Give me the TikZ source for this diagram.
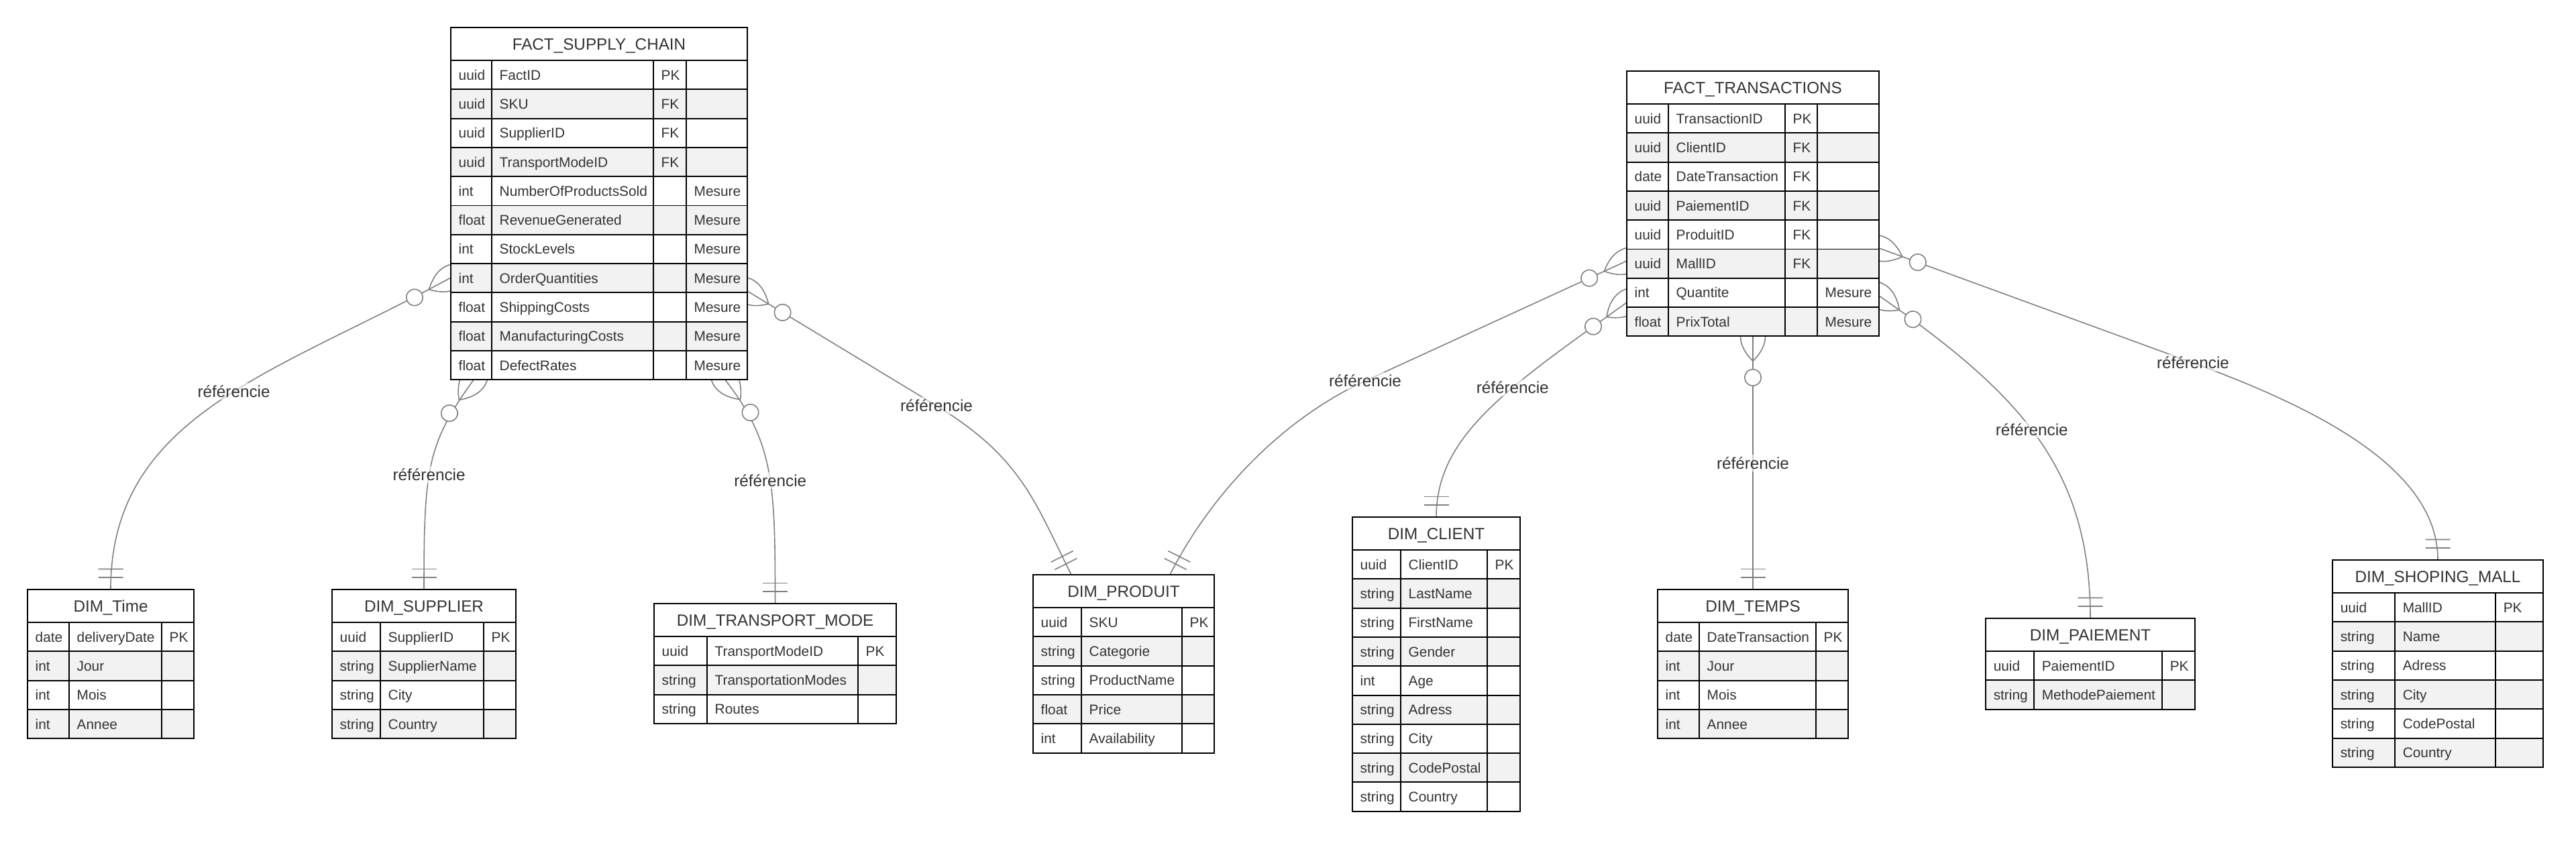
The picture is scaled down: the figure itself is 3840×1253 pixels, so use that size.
\documentclass[tikz,border=0pt]{standalone}
\usepackage{fontspec}
\setmainfont{Liberation Sans}
\usetikzlibrary{calc,fit,decorations.markings}
\pgfdeclarelayer{bg}
\pgfsetlayers{bg,main}
\definecolor{edgegray}{RGB}{128,128,128}
\definecolor{rowgray}{RGB}{242,242,242}
\definecolor{txtc}{RGB}{51,51,51}
\def\dashmark{-}
\tikzset{
  tline/.style={draw=black, line width=0.55pt},
  outerbox/.style={draw=black, line width=0.55pt, inner sep=0pt, outer sep=0pt},
  cell/.style={font=\fontsize{5.93}{7}\selectfont, text=txtc, inner sep=0pt, anchor=base west},
  ttl/.style={font=\fontsize{6.9}{8}\selectfont, text=txtc, inner sep=0pt, anchor=base},
  lbl/.style={font=\fontsize{6.9}{8}\selectfont, text=txtc, fill=white, fill opacity=0.6, text opacity=1, inner sep=1pt},
  conn/.style={draw=edgegray, line width=0.45pt},
  zmany/.style={postaction={decorate, decoration={markings, mark=at position 0 with {
      \draw[conn] (-37,0) .. controls (-12.3,-24.7) and (12.3,-24.7) .. (37,0) .. controls (12.3,24.7) and (-12.3,24.7) .. (-37,0);
      \draw[conn, fill=white] (61.5,0) circle (12.3);}}}},
  onlyone/.style={postaction={decorate, decoration={markings, mark=at position 0.99999 with {
      \draw[conn] (-18,-18.5) -- (-18,18.5) (-30.5,-18.5) -- (-30.5,18.5);}}}},
}
% #1 name, #2 xL, #3 cA, #4 cB, #5 cC (0 = none), #6 xR, #7 yTop, #8 title, #9 rows
\newcommand\ertable[9]{%
  \pgfmathsetmacro\yHB{#7+49}%
  \foreach \rowitem [count=\rowcnt] in {#9} {\xdef\nrows{\rowcnt}}%
  \pgfmathsetmacro\yBot{\yHB+\nrows*43.3}%
  \fill[white] (#2,#7) rectangle (#6,\yBot);
  \node[ttl] (#1-title) at ({(#2+#6)/2},#7+33.2) {#8};
  \foreach \fa/\fb/\fc/\fd [count=\i] in {#9} {%
    \pgfmathsetmacro\ya{\yHB+(\i-1)*43.3}%
    \pgfmathsetmacro\yb{\ya+43.3}%
    \ifodd\i\else\fill[rowgray] (#2,\ya) rectangle (#6,\yb);\fi
    \draw[tline] (#2,\ya) -- (#6,\ya);
    \node[cell] (#1-\i-a) at (#2+11,\ya+29.15) {\fa};
    \node[cell] (#1-\i-b) at (#3+11,\ya+29.15) {\fb};
    \ifx\fc\dashmark\else\node[cell] (#1-\i-c) at (#4+11,\ya+29.15) {\fc};\fi
    \ifnum#5>0 \ifx\fd\dashmark\else\node[cell] (#1-\i-d) at (#5+11,\ya+29.15) {\fd};\fi\fi
  }
  \draw[tline] (#3,\yHB) -- (#3,\yBot) (#4,\yHB) -- (#4,\yBot);
  \ifnum#5>0 \draw[tline] (#5,\yHB) -- (#5,\yBot);\fi
  \node[outerbox, fit={(#2,#7) (#6,\yBot)}] (#1) {};
}
\begin{document}
\begin{tikzpicture}[x=0.01cm, y=-0.01cm]
\path[use as bounding box] (0,0) rectangle (3840,1253);

% ---------- tables ----------
\ertable{fsc}{672}{733}{974}{1023}{1114}{41}{FACT\_SUPPLY\_CHAIN}{uuid/FactID/PK/-, uuid/SKU/FK/-, uuid/SupplierID/FK/-, uuid/TransportModeID/FK/-, int/NumberOfProductsSold/-/Mesure, float/RevenueGenerated/-/Mesure, int/StockLevels/-/Mesure, int/OrderQuantities/-/Mesure, float/ShippingCosts/-/Mesure, float/ManufacturingCosts/-/Mesure, float/DefectRates/-/Mesure}
\ertable{ft}{2425}{2487}{2661}{2709}{2801}{106}{FACT\_TRANSACTIONS}{uuid/TransactionID/PK/-, uuid/ClientID/FK/-, date/DateTransaction/FK/-, uuid/PaiementID/FK/-, uuid/ProduitID/FK/-, uuid/MallID/FK/-, int/Quantite/-/Mesure, float/PrixTotal/-/Mesure}
\ertable{dtime}{41}{103}{241}{0}{289}{879}{DIM\_Time}{date/deliveryDate/PK/-, int/Jour/-/-, int/Mois/-/-, int/Annee/-/-}
\ertable{dsup}{495}{567}{721}{0}{769}{879}{DIM\_SUPPLIER}{uuid/SupplierID/PK/-, string/SupplierName/-/-, string/City/-/-, string/Country/-/-}
\ertable{dtm}{975}{1054}{1279}{0}{1336}{900}{DIM\_TRANSPORT\_MODE}{uuid/TransportModeID/PK/-, string/TransportationModes/-/-, string/Routes/-/-}
\ertable{dprod}{1540}{1612}{1762}{0}{1810}{857}{DIM\_PRODUIT}{uuid/SKU/PK/-, string/Categorie/-/-, string/ProductName/-/-, float/Price/-/-, int/Availability/-/-}
\ertable{dcli}{2016}{2088}{2217}{0}{2266}{771}{DIM\_CLIENT}{uuid/ClientID/PK/-, string/LastName/-/-, string/FirstName/-/-, string/Gender/-/-, int/Age/-/-, string/Adress/-/-, string/City/-/-, string/CodePostal/-/-, string/Country/-/-}
\ertable{dtemps}{2471}{2533}{2707}{0}{2755}{879}{DIM\_TEMPS}{date/DateTransaction/PK/-, int/Jour/-/-, int/Mois/-/-, int/Annee/-/-}
\ertable{dpai}{2960}{3032}{3223}{0}{3272}{922}{DIM\_PAIEMENT}{uuid/PaiementID/PK/-, string/MethodePaiement/-/-}
\ertable{dmall}{3477}{3570}{3720}{0}{3791}{835}{DIM\_SHOPING\_MALL}{uuid/MallID/PK/-, string/Name/-/-, string/Adress/-/-, string/City/-/-, string/CodePostal/-/-, string/Country/-/-}

% ---------- connector end points ----------
\coordinate (sA) at ($(fsc.north west)+(0,373)$);
\coordinate (eA) at (dtime.north);
\coordinate (sB) at ($(fsc.south west)+(34,0)$);
\coordinate (eB) at (dsup.north);
\coordinate (sC) at ($(fsc.south west)+(409,0)$);
\coordinate (eC) at (dtm.north);
\coordinate (sD) at ($(fsc.north east)+(0,393)$);
\coordinate (mD) at (1396,605);
\coordinate (eD) at ($(dprod.north west)+(57,0)$);
\coordinate (sE) at ($(ft.north west)+(0,283)$);
\coordinate (mE) at (2035,568);
\coordinate (eE) at ($(dprod.north west)+(204,0)$);
\coordinate (sF) at ($(ft.north west)+(0,345)$);
\coordinate (eF) at (dcli.north);
\coordinate (sG) at ($(ft.south west)+(188,0)$);
\coordinate (eG) at (dtemps.north);
\coordinate (sH) at ($(ft.north east)+(0,264)$);
\coordinate (mH) at (3269,541);
\coordinate (eH) at (dmall.north);
\coordinate (sI) at ($(ft.north east)+(0,335)$);
\coordinate (eI) at (dpai.north);

% ---------- connectors ----------
\begin{pgfonlayer}{bg}
\fill[white] (0,0) rectangle (3840,1253);
\draw[conn, zmany, onlyone] (sA) .. controls (408,558) and (165,619) .. (eA) coordinate[pos=0.45] (mA);
\draw[conn, zmany, onlyone] (sB) .. controls (636,663) and (632,700) .. (eB) coordinate[pos=0.56] (mB);
\draw[conn, zmany, onlyone] (sC) .. controls (1154,661) and (1155.5,720) .. (eC) coordinate[pos=0.55] (mC);
\draw[conn, zmany, onlyone] (sD) -- (mD) .. controls (1524,683) and (1543,750) .. (eD);
\draw[conn, zmany, onlyone] (sE) -- (mE) .. controls (1899,631) and (1798,750) .. (eE);
\draw[conn, zmany, onlyone] (sF) .. controls (2246,579) and (2141,650) .. (eF) coordinate[pos=0.38] (mF);
\draw[conn, zmany, onlyone] (sG) -- (eG) coordinate[pos=0.5] (mG);
\draw[conn, zmany, onlyone] (sH) -- (mH) .. controls (3457,610) and (3634,700) .. (eH);
\draw[conn, zmany, onlyone] (sI) .. controls (3014,589) and (3116,700) .. (eI) coordinate[pos=0.47] (mI);
\end{pgfonlayer}

% ---------- labels ----------
\node[lbl] (lA) at (mA) {référencie};
\node[lbl] (lB) at (mB) {référencie};
\node[lbl] (lC) at (mC) {référencie};
\node[lbl] (lD) at (mD) {référencie};
\node[lbl] (lE) at (mE) {référencie};
\node[lbl] (lF) at (mF) {référencie};
\node[lbl] (lG) at (mG) {référencie};
\node[lbl] (lH) at (mH) {référencie};
\node[lbl] (lI) at (mI) {référencie};
\end{tikzpicture}
\end{document}
